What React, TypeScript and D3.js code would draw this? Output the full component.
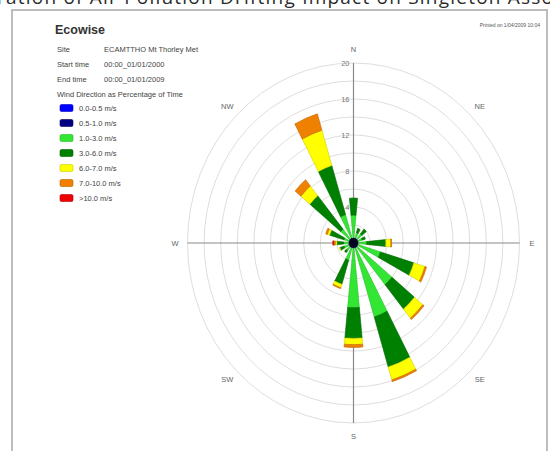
import React, { useEffect, useRef } from 'react';
import * as d3 from 'd3';

const directions = ['N', 'NNE', 'NE', 'ENE', 'E', 'ESE', 'SE', 'SSE', 'S', 'SSW', 'SW', 'WSW', 'W', 'WNW', 'NW', 'NNW'];
const compassLabels = ['N', 'NE', 'E', 'SE', 'S', 'SW', 'W', 'NW'];
const speedClasses = ['0.0-0.5 m/s', '0.5-1.0 m/s', '1.0-3.0 m/s', '3.0-6.0 m/s', '6.0-7.0 m/s', '7.0-10.0 m/s', '>10.0 m/s'];
const speedColors = ['#0000ff', '#000080', '#33e633', '#008000', '#ffff00', '#f08000', '#ee0000'];

// percentage of time in each class, per direction (N clockwise)
const speed0005 = [0.15, 0.15, 0.15, 0.15, 0.15, 0.15, 0.15, 0.15, 0.15, 0.15, 0.15, 0.15, 0.15, 0.15, 0.15, 0.15];
const speed0510 = [0.45, 0.45, 0.45, 0.45, 0.45, 0.45, 0.45, 0.45, 0.45, 0.45, 0.45, 0.45, 0.45, 0.45, 0.45, 0.45];
const speed1030 = [2.5, 0.6, 0.7, 0.5, 1.0, 2.8, 5.4, 8.0, 6.6, 1.4, 0.5, 0.6, 0.6, 0.6, 1.4, 2.7];
const speed3060 = [1.9, 0.5, 0.7, 0.4, 2.3, 4.2, 3.5, 5.8, 3.4, 2.8, 0.3, 0.5, 0.8, 1.8, 4.8, 5.7];
const speed6070 = [0, 0, 0, 0, 0.6, 1.4, 1.3, 1.5, 0.7, 0.4, 0, 0.1, 0.2, 0.3, 1.4, 4.1];
const speed7010 = [0, 0, 0, 0, 0.1, 0.2, 0.2, 0.2, 0.3, 0.1, 0, 0, 0.2, 0.2, 0.9, 1.9];
const speed10up = [0, 0, 0, 0, 0, 0, 0, 0, 0, 0, 0, 0, 0.1, 0, 0, 0];
const series = [speed0005, speed0510, speed1030, speed3060, speed6070, speed7010, speed10up];

const ringValues = [2, 4, 6, 8, 10, 12, 14, 16, 18, 20];
const ringLabels = [4, 8, 12, 16, 20];

const infoRows = [
  ['Site', 'ECAMTTHO  Mt Thorley Met'],
  ['Start time', '00:00_01/01/2000'],
  ['End time', '00:00_01/01/2009'],
];

const W = 550;
const H = 451;

const App: React.FC = () => {
  const svgRef = useRef<SVGSVGElement>(null);

  useEffect(() => {
    if (!svgRef.current) return;
    const svg = d3.select(svgRef.current);
    svg.selectAll('*').remove();

    const font = 'Arial, "Liberation Sans", sans-serif';
    const cx = 353.5;
    const cy = 243;
    const sy = 180 / 166;

    const r = d3.scaleLinear().domain([0, 20]).range([0, 166]);
    const angle = d3.scaleBand().domain(directions).range([0, 2 * Math.PI]).align(0);
    const step = (2 * Math.PI) / directions.length;
    const half = step / 4;

    svg.append('rect').attr('width', W).attr('height', H).attr('fill', '#fff');

    // slide title, cut off at the top
    svg.append('text')
      .attr('x', -3)
      .attr('y', 4)
      .attr('textLength', 556)
      .style('font-family', '"Open Sans", sans-serif')
      .style('font-size', '19px')
      .style('fill', '#2a2a2a')
      .text('ration of Air Pollution Drifting Impact on Singleton Asso');

    // frame
    svg.append('path')
      .attr('d', `M12,${H}V10H547V${H}`)
      .attr('fill', 'none')
      .attr('stroke', '#bdbdbd')
      .attr('stroke-width', 2);

    svg.append('text')
      .attr('x', 55).attr('y', 34)
      .style('font-family', font).style('font-size', '12.5px').style('font-weight', 'bold')
      .style('fill', '#333')
      .text('Ecowise');

    svg.append('text')
      .attr('x', 540).attr('y', 27)
      .attr('text-anchor', 'end')
      .style('font-family', font).style('font-size', '5px').style('fill', '#555')
      .text('Printed on 1/04/2009 10:04');

    const info = svg.append('g').style('font-family', font).style('font-size', '7.5px').style('fill', '#444');
    infoRows.forEach((row, i) => {
      info.append('text').attr('x', 57).attr('y', 52 + i * 15).text(row[0]);
      info.append('text').attr('x', 104).attr('y', 52 + i * 15).text(row[1]);
    });
    info.append('text').attr('x', 57).attr('y', 97).text('Wind Direction as Percentage of Time');

    const legend = svg.append('g').style('font-family', font).style('font-size', '7.5px').style('fill', '#444');
    speedClasses.forEach((label, i) => {
      const y = 108 + i * 15;
      legend.append('rect')
        .attr('x', 60).attr('y', y - 3.5).attr('width', 13).attr('height', 7).attr('rx', 1.5)
        .attr('fill', speedColors[i])
        .attr('stroke', d3.color(speedColors[i])!.darker(0.7).toString())
        .attr('stroke-width', 0.6);
      legend.append('text').attr('x', 79).attr('y', y + 2.7).text(label);
    });

    const plot = svg.append('g').attr('transform', `translate(${cx},${cy}) scale(1,${sy})`);

    plot.selectAll('.ring')
      .data(ringValues)
      .enter().append('circle')
      .attr('r', d => r(d))
      .attr('fill', 'none')
      .attr('stroke', '#dedede')
      .attr('stroke-width', 1)
      .attr('vector-effect', 'non-scaling-stroke');

    plot.append('line').attr('x1', -r(20)).attr('x2', r(20))
      .attr('stroke', '#8a8a8a').attr('stroke-width', 1.2).attr('vector-effect', 'non-scaling-stroke');
    plot.append('line').attr('y1', -r(20)).attr('y2', r(20))
      .attr('stroke', '#8a8a8a').attr('stroke-width', 1.2).attr('vector-effect', 'non-scaling-stroke');

    const arc = d3.arc<any>();
    directions.forEach((dir, di) => {
      const a = angle(dir)!;
      let acc = 0;
      series.forEach((vals, si) => {
        const v = vals[di];
        if (v <= 0) return;
        const inner = acc;
        acc += v;
        plot.append('path')
          .attr('d', arc({
            innerRadius: r(inner),
            outerRadius: r(acc),
            startAngle: a - half,
            endAngle: a + half,
          }))
          .attr('fill', speedColors[si])
          .attr('stroke', d3.color(speedColors[si])!.darker(0.6).toString())
          .attr('stroke-width', 0.6)
          .attr('vector-effect', 'non-scaling-stroke');
      });
    });

    plot.append('circle').attr('r', 4.5).attr('fill', '#050520');

    // ring labels along north axis
    svg.selectAll('.rlab')
      .data(ringLabels)
      .enter().append('text')
      .attr('x', cx - 4)
      .attr('y', d => cy - r(d) * sy + 2.5)
      .attr('text-anchor', 'end')
      .style('font-family', font).style('font-size', '7.5px').style('fill', '#777')
      .text(d => d);

    svg.selectAll('.clab')
      .data(compassLabels)
      .enter().append('text')
      .attr('x', d => cx + r(21.5) * Math.sin(angle(d)!))
      .attr('y', d => cy - r(21.5) * Math.cos(angle(d)!) * sy + 2.5)
      .attr('text-anchor', 'middle')
      .style('font-family', font).style('font-size', '7.5px').style('fill', '#666')
      .text(d => d);
  }, []);

  return (
    <svg ref={svgRef} width={W} height={H} style={{ position: 'absolute', left: 0, top: 0 }} />
  );
};

export default App;
